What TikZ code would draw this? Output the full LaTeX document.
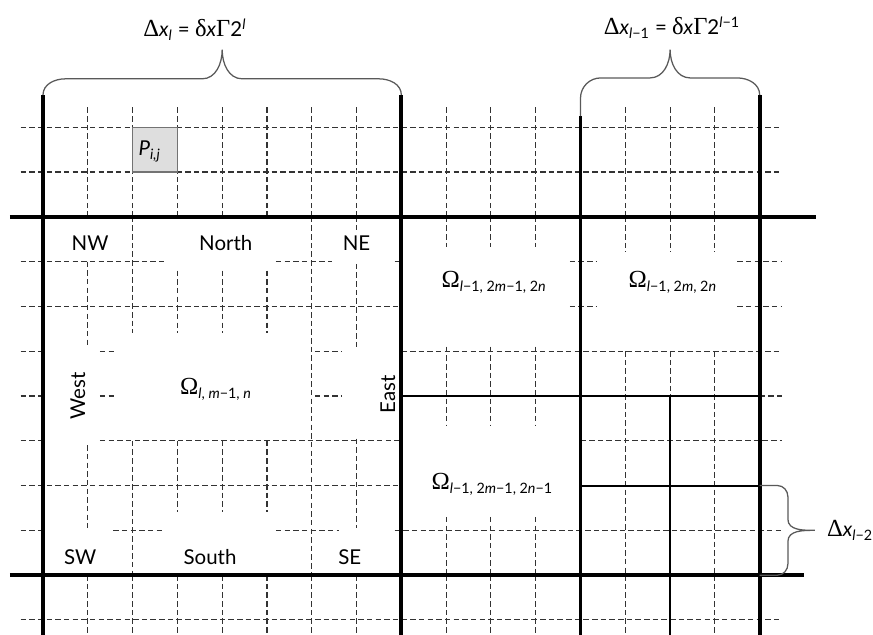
\documentclass[tikz,border=0pt]{standalone}
\usepackage{fontspec}
\setmainfont{Lato}
\newfontfamily\grk[Scale=1.2]{Liberation Serif}
\newcommand{\gk}[1]{{\grk #1}}
\usetikzlibrary{calc}

\begin{document}
\begin{tikzpicture}[x=1cm, y=1cm,
    font=\fontsize{13}{15}\selectfont,
    % Define the line styles
    bound/.style={line width=2.6pt},
    split/.style={line width=1.3pt},
    gridline/.style={line width=0.7pt, black!80, dash pattern=on 3.5pt off 2pt},
    curly/.style={line width=0.8pt, black!65},
    cell/.style={fill=black!13, draw=black!55, line width=0.7pt}
]

\useasboundingbox (-0.96,-9.33) rectangle (18.53,4.84);

% Define the corners of the blocks
\coordinate (TL) at (0,2.72);
\coordinate (TM) at (8,2.72);
\coordinate (TR) at (16,2.72);
\coordinate (TQ) at (12,2.25);
\coordinate (QB) at (16,-6);
\coordinate (RB) at (16,-8);

% Draw the fine grid of the top and bottom bands
\foreach \u in {1,...,7,9,10,11,13,14,15}
  \draw[gridline] (\u,0) -- (\u,2.45);
\foreach \u in {1,...,7,9,10,11,13,15}
  \draw[gridline] (\u,-8) -- (\u,-9.5);
\foreach \v in {1,2,-9}
  \draw[gridline] (-0.5,\v) -- (16.5,\v);

% Draw the pieces of the fine grid inside the blocks
\foreach \a/\b/\v in {-0.5/2.7/-1, 5.2/6.45/-1, 7.85/8/-1, 11.76/12.35/-1, 15.5/16.5/-1,
    -0.5/8/-2, 11.76/12.35/-2, 15.5/16.5/-2,
    -0.5/0/-3, 1.27/1.65/-3, 6.07/6.67/-3, 8/16.5/-3,
    -0.5/0/-4, 1.27/1.65/-4, 6.07/6.67/-4, 16/16.5/-4,
    -0.5/0/-5, 1.27/8/-5, 12/16.5/-5,
    -0.5/8/-6,
    -0.5/0/-7, 1.57/2.7/-7, 5.2/6.6/-7, 7.85/16.5/-7}
  \draw[gridline] (\a,\v) -- (\b,\v);
\foreach \u/\a/\b in {1/-1/-2.9, 1/-5.1/-6.95, 2/0/-2.6, 2/-5/-8,
    3/-1.2/-2.6, 3/-5/-6.6, 4/-1.2/-2.6, 4/-5/-6.6, 5/-1.2/-2.6, 5/-5/-6.6,
    6/0/-8, 7/0/-0.3, 7/-1.05/-2.9, 7/-4.95/-6.95,
    9/0/-0.67, 9/-2.9/-4.65, 9/-6.7/-8, 10/0/-0.67, 10/-2.9/-4.65, 10/-6.7/-8,
    11/0/-0.67, 11/-2.9/-4.65, 11/-6.7/-8,
    13/0/-0.78, 13/-3/-8, 14/0/-0.78, 14/-3/-4, 15/0/-0.78, 15/-3/-8}
  \draw[gridline] (\u,\a) -- (\u,\b);

% Draw the cell P
\draw[cell] (2,1) rectangle (3,2);
\node (pij) at (2.38,1.45) {\textit{P}\textsubscript{\textit{i,j}}};

% Draw the lines of the finer blocks
\draw[split] (TQ) -- (12,-9.5);
\draw[split] (8,-4) -- (16,-4);
\draw[split] (14,-4) -- (14,-9.5);
\draw[split] (12,-6) -- (QB);

% Draw the block borders
\draw[bound] (TL) -- (0,-9.5);
\draw[bound] (TM) -- (8,-9.5);
\draw[bound] (TR) -- (16,-9.5);
\draw[bound] (-0.74,0) -- (17.25,0);
\draw[bound] (-0.74,-8) -- (17,-8);

% Draw the braces
\draw[curly] (TL) to[out=90,in=180] ($(TL)+(0.5,0.36)$) -- ($(TL)+(3.55,0.36)$)
  to[out=0,in=-90] ($(TL)+(4,1.01)$) coordinate (tip1)
  to[out=-90,in=180] ($(TL)+(4.45,0.36)$) -- ($(TM)+(-0.5,0.36)$) to[out=0,in=90] (TM);
\draw[curly] (TQ) -- ($(TQ)+(0,0.4)$) to[out=90,in=180] ($(TQ)+(0.45,0.85)$) -- ($(TQ)+(1.55,0.85)$)
  to[out=0,in=-90] ($(TQ)+(2,1.48)$) coordinate (tip2)
  to[out=-90,in=180] ($(TQ)+(2.45,0.85)$) -- ($(TR)+(-0.5,0.38)$) to[out=0,in=90] (TR);
\draw[curly] (QB) -- ($(QB)+(0.4,0)$) to[out=0,in=90] ($(QB)+(0.63,-0.25)$) -- ($(QB)+(0.63,-0.75)$)
  to[out=-90,in=180] ($(QB)+(1.23,-1)$) coordinate (tip3)
  to[out=180,in=90] ($(RB)+(0.63,0.75)$) -- ($(RB)+(0.63,0.25)$) to[out=-90,in=0] ($(RB)+(0.4,0)$) -- (RB);

% Add the brace labels
\node (dxl) at (3.39,4.17) {\gk{Δ}\textit{x}\textsubscript{\textit{l}} = \gk{δ}\textit{x}\gk{Γ}2\textsuperscript{\textit{l}}};
\node (dxl1) at (14.04,4.22) {\gk{Δ}\textit{x}\textsubscript{\textit{l}−1} = \gk{δ}\textit{x}\gk{Γ}2\textsuperscript{\textit{l}−1}};
\node (dxl2) at (tip3) [right=0.15cm] {\gk{Δ}\textit{x}\textsubscript{\textit{l}−2}};

% Add the neighbour labels
\node (nw) at (1.05,-0.58) {NW};
\node (north) at (4.08,-0.58) {North};
\node (ne) at (7.0,-0.58) {NE};
\node (west) at (0.78,-4.0) [rotate=90] {West};
\node (east) at (7.7,-3.97) [rotate=90] {East};
\node (sw) at (0.83,-7.59) {SW};
\node (south) at (3.73,-7.59) {South};
\node (se) at (6.85,-7.59) {SE};

% Add the block labels
\node (om) at (3.86,-3.86) {\gk{Ω}\textsubscript{\textit{l}, \textit{m}−1, \textit{n}}};
\node (om1) at (10.07,-1.47) {\gk{Ω}\textsubscript{\textit{l}−1, 2\textit{m}−1, 2\textit{n}}};
\node (om2) at (14.06,-1.47) {\gk{Ω}\textsubscript{\textit{l}−1, 2\textit{m}, 2\textit{n}}};
\node (om3) at (10.03,-5.98) {\gk{Ω}\textsubscript{\textit{l}−1, 2\textit{m}−1, 2\textit{n}−1}};

\end{tikzpicture}
\end{document}
